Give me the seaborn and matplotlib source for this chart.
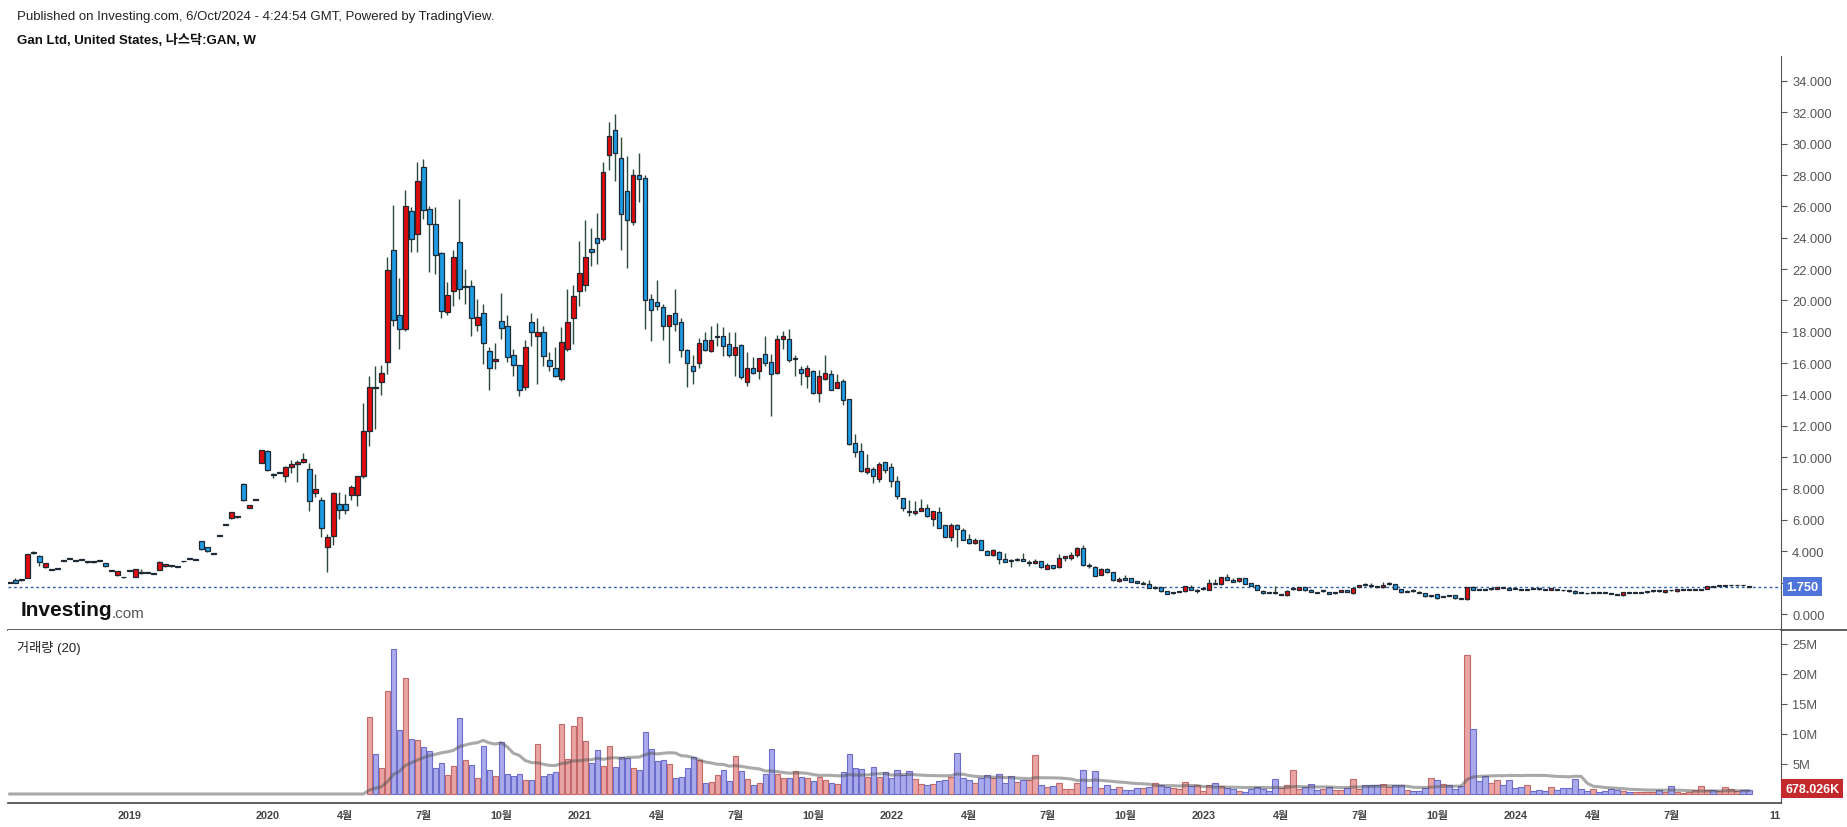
import matplotlib
matplotlib.use("Agg")
import numpy as np
import pandas as pd
import matplotlib.pyplot as plt
import seaborn as sns

# Weekly OHLC for GAN, one entry per bar (bar index 0..290)
opens = [
    2.02, 2.20, 2.15, 2.30, 3.88, 3.70, 2.98, 2.85, 2.88, 3.40,
    3.53, 3.44, 3.50, 3.31, 3.31, 3.40, 3.23, 2.76, 2.47, 2.35,
    2.74, 2.38, 2.62, 2.64, 2.60, 2.83, 3.04, 3.07, 3.01, 3.35,
    3.54, 3.49, 4.63, 4.27, 3.84, 4.99, 5.69, 6.10, 6.18, 8.30,
    6.78, 7.30, 9.65, 10.40, 8.95, 9.01, 8.82, 9.40, 9.55, 9.70,
    9.25, 7.70, 7.27, 4.30, 4.99, 7.00, 7.00, 7.60, 7.60, 8.82,
    11.65, 14.50, 14.81, 16.05, 23.20, 19.07, 18.20, 25.70, 24.25, 28.50,
    25.80, 24.90, 23.00, 19.24, 20.60, 23.70, 20.85, 20.90, 18.45, 19.20,
    16.80, 16.15, 18.70, 18.40, 16.55, 15.90, 14.50, 18.60, 17.70, 18.00,
    16.20, 15.70, 14.97, 16.90, 18.90, 20.63, 21.00, 23.30, 23.97, 23.95,
    29.30, 30.90, 29.10, 27.00, 25.02, 28.00, 27.78, 20.10, 19.90, 19.60,
    18.35, 19.20, 18.60, 16.87, 15.80, 16.00, 17.50, 16.76, 17.65, 17.70,
    17.20, 16.50, 17.15, 14.80, 15.70, 15.50, 16.60, 16.10, 15.40, 17.57,
    17.57, 16.25, 15.60, 15.20, 15.50, 14.07, 15.00, 15.30, 14.44, 14.85,
    13.69, 10.88, 10.37, 9.08, 9.25, 8.61, 9.67, 9.35, 8.46, 7.37,
    6.58, 6.46, 6.60, 6.74, 6.08, 6.49, 5.65, 4.93, 5.65, 5.35,
    4.77, 4.50, 4.70, 4.00, 3.74, 3.93, 3.50, 3.40, 3.45, 3.50,
    3.23, 3.25, 3.38, 2.90, 3.13, 2.98, 3.55, 3.60, 3.74, 4.19,
    3.04, 2.98, 2.47, 2.85, 2.66, 2.13, 2.27, 2.27, 2.10, 1.94,
    1.94, 1.66, 1.72, 1.45, 1.33, 1.41, 1.45, 1.72, 1.47, 1.57,
    1.55, 2.00, 1.89, 2.33, 2.20, 2.08, 2.27, 2.00, 1.85, 1.47,
    1.40, 1.35, 1.22, 1.20, 1.57, 1.55, 1.70, 1.50, 1.39, 1.45,
    1.38, 1.32, 1.40, 1.53, 1.32, 1.72, 1.93, 1.81, 1.73, 1.70,
    1.89, 1.89, 1.60, 1.43, 1.46, 1.43, 1.34, 1.13, 1.26, 1.11,
    1.18, 1.21, 0.97, 0.94, 1.72, 1.56, 1.54, 1.57, 1.60, 1.67,
    1.64, 1.61, 1.56, 1.54, 1.61, 1.59, 1.56, 1.55, 1.54, 1.52,
    1.46, 1.47, 1.35, 1.33, 1.35, 1.37, 1.35, 1.31, 1.24, 1.19,
    1.39, 1.35, 1.37, 1.39, 1.44, 1.46, 1.38, 1.52, 1.45, 1.54,
    1.54, 1.54, 1.54, 1.60, 1.75, 1.78, 1.80, 1.82, 1.82, 1.84,
    1.79,
]
highs = [
    2.05, 2.30, 2.25, 3.85, 4.00, 3.75, 3.25, 2.88, 2.94, 3.46,
    3.58, 3.46, 3.52, 3.33, 3.33, 3.45, 3.25, 2.78, 2.75, 2.37,
    2.78, 2.87, 2.87, 2.68, 2.62, 3.36, 3.19, 3.09, 3.03, 3.39,
    3.58, 3.51, 4.66, 4.30, 3.86, 5.03, 5.73, 6.50, 6.20, 8.33,
    6.95, 7.34, 10.48, 10.46, 8.97, 9.07, 9.42, 9.85, 9.85, 10.30,
    9.60, 8.95, 7.45, 5.10, 7.75, 7.76, 7.66, 8.20, 8.82, 13.45,
    15.16, 15.80, 15.87, 22.80, 26.10, 21.40, 27.04, 25.94, 28.80, 29.00,
    26.00, 25.94, 23.10, 21.15, 23.20, 26.50, 22.00, 21.30, 20.10, 19.80,
    17.00, 17.30, 20.50, 19.10, 16.90, 15.90, 17.50, 19.20, 18.90, 18.40,
    16.70, 17.00, 18.30, 20.70, 21.00, 23.80, 25.10, 24.60, 25.60, 28.85,
    31.40, 31.90, 30.40, 29.20, 28.40, 29.40, 28.00, 20.40, 21.28, 19.77,
    19.07, 20.70, 18.90, 16.90, 16.50, 17.60, 18.00, 18.38, 18.53, 18.30,
    17.97, 17.97, 17.20, 16.70, 16.40, 16.30, 17.70, 16.60, 17.80, 18.05,
    18.20, 16.50, 15.83, 15.85, 15.55, 15.55, 16.50, 15.55, 15.30, 15.00,
    13.70, 11.50, 10.90, 10.20, 9.35, 9.72, 9.72, 9.60, 8.80, 7.37,
    7.30, 7.20, 7.35, 7.00, 6.60, 6.83, 5.65, 5.78, 5.72, 5.46,
    5.13, 4.87, 4.74, 4.10, 4.14, 4.00, 3.87, 3.53, 3.57, 3.87,
    3.47, 3.51, 3.40, 3.23, 3.15, 3.83, 3.72, 3.97, 4.27, 4.40,
    3.23, 3.04, 2.91, 2.91, 2.70, 2.34, 2.46, 2.27, 2.10, 2.08,
    2.15, 1.77, 1.72, 1.47, 1.40, 1.47, 1.80, 1.85, 1.57, 1.70,
    2.25, 2.25, 2.36, 2.55, 2.27, 2.30, 2.28, 2.00, 1.87, 1.50,
    1.42, 1.77, 1.30, 1.55, 1.66, 1.72, 1.72, 1.60, 1.43, 1.50,
    1.40, 1.38, 1.53, 1.55, 1.66, 1.87, 1.96, 1.98, 1.74, 2.06,
    2.02, 1.90, 1.60, 1.50, 1.60, 1.45, 1.36, 1.23, 1.28, 1.17,
    1.20, 1.23, 0.98, 1.72, 1.77, 1.60, 1.56, 1.62, 1.74, 1.69,
    1.66, 1.63, 1.58, 1.58, 1.63, 1.61, 1.58, 1.66, 1.56, 1.54,
    1.48, 1.50, 1.37, 1.35, 1.39, 1.39, 1.37, 1.33, 1.26, 1.42,
    1.41, 1.39, 1.41, 1.43, 1.48, 1.48, 1.53, 1.54, 1.62, 1.58,
    1.58, 1.58, 1.58, 1.79, 1.77, 1.82, 1.84, 1.86, 1.86, 1.86,
    1.81,
]
lows = [
    1.95, 1.98, 2.10, 2.28, 3.85, 3.06, 2.95, 2.80, 2.86, 3.38,
    3.51, 3.38, 3.45, 3.27, 3.27, 3.38, 3.02, 2.72, 2.45, 2.31,
    2.72, 2.36, 2.55, 2.62, 2.56, 2.81, 3.02, 3.03, 2.97, 3.33,
    3.52, 3.45, 4.10, 3.98, 3.80, 4.97, 5.67, 6.08, 6.14, 7.22,
    6.76, 7.28, 9.63, 9.14, 8.70, 8.99, 8.40, 9.00, 8.40, 9.60,
    6.60, 7.45, 4.90, 2.66, 4.40, 6.06, 6.35, 7.24, 6.87, 8.65,
    10.70, 11.80, 13.96, 15.30, 18.40, 16.90, 18.05, 23.10, 23.10, 25.20,
    21.80, 21.70, 18.90, 19.07, 19.67, 20.10, 19.80, 17.75, 18.05, 15.94,
    14.30, 15.60, 17.55, 16.10, 15.20, 13.90, 14.30, 17.10, 14.65, 15.80,
    15.50, 15.10, 14.85, 16.80, 17.20, 19.67, 20.63, 22.20, 22.30, 23.76,
    28.30, 27.60, 23.20, 22.10, 24.80, 26.30, 18.20, 17.40, 19.40, 17.46,
    16.00, 18.05, 16.40, 14.50, 14.70, 15.67, 16.80, 16.70, 17.10, 16.46,
    16.40, 15.20, 15.00, 14.53, 15.30, 14.99, 15.80, 12.60, 15.30, 16.90,
    16.10, 15.20, 14.60, 14.40, 14.05, 13.55, 14.90, 14.30, 14.40, 13.30,
    10.80, 10.00, 9.08, 8.93, 8.33, 8.40, 9.00, 8.10, 7.33, 6.55,
    6.23, 6.30, 6.55, 6.17, 5.60, 5.50, 4.93, 4.65, 4.27, 4.70,
    4.44, 4.44, 4.06, 3.74, 3.72, 3.17, 3.30, 3.02, 3.38, 3.36,
    3.08, 3.17, 2.96, 2.90, 2.90, 2.96, 3.38, 3.47, 3.61, 3.08,
    2.96, 2.40, 2.47, 2.62, 2.13, 2.06, 2.15, 2.02, 1.96, 1.90,
    1.64, 1.60, 1.42, 1.25, 1.30, 1.38, 1.43, 1.51, 1.32, 1.55,
    1.50, 1.90, 1.85, 2.18, 2.04, 2.06, 1.92, 1.78, 1.50, 1.30,
    1.32, 1.30, 1.20, 1.18, 1.53, 1.53, 1.48, 1.40, 1.36, 1.40,
    1.25, 1.30, 1.38, 1.38, 1.28, 1.70, 1.80, 1.77, 1.69, 1.68,
    1.87, 1.58, 1.36, 1.41, 1.42, 1.32, 1.11, 1.11, 0.98, 1.09,
    1.15, 0.98, 0.93, 0.92, 1.53, 1.50, 1.50, 1.55, 1.58, 1.63,
    1.53, 1.58, 1.53, 1.52, 1.58, 1.56, 1.53, 1.53, 1.51, 1.49,
    1.43, 1.28, 1.32, 1.30, 1.33, 1.34, 1.32, 1.28, 1.21, 1.17,
    1.36, 1.33, 1.35, 1.37, 1.42, 1.43, 1.36, 1.49, 1.43, 1.52,
    1.52, 1.52, 1.52, 1.58, 1.72, 1.76, 1.78, 1.80, 1.80, 1.81,
    1.74,
]
closes = [
    1.98, 2.00, 2.20, 3.83, 3.95, 3.30, 3.23, 2.82, 2.92, 3.44,
    3.57, 3.40, 3.47, 3.29, 3.29, 3.43, 3.04, 2.74, 2.73, 2.33,
    2.76, 2.85, 2.60, 2.66, 2.58, 3.34, 3.17, 3.05, 2.99, 3.37,
    3.56, 3.47, 4.12, 4.00, 3.82, 5.01, 5.71, 6.48, 6.16, 7.25,
    6.93, 7.32, 10.46, 9.16, 8.88, 9.05, 9.40, 9.57, 9.70, 9.90,
    7.23, 7.95, 5.46, 4.90, 7.72, 6.63, 6.63, 8.08, 8.82, 11.65,
    14.46, 14.40, 15.40, 21.94, 18.77, 18.20, 26.00, 23.90, 27.60, 25.77,
    24.90, 22.90, 19.35, 20.34, 22.74, 20.70, 20.95, 18.90, 18.96, 17.30,
    15.70, 16.25, 18.26, 16.40, 15.90, 14.30, 17.06, 17.96, 18.00, 16.47,
    15.84, 15.20, 17.35, 18.60, 20.30, 21.75, 22.80, 23.10, 23.64, 28.17,
    30.46, 29.40, 25.50, 25.10, 27.97, 27.76, 20.00, 19.40, 19.65, 18.40,
    19.05, 18.47, 16.85, 16.00, 15.50, 17.30, 16.87, 17.46, 17.70, 17.10,
    16.50, 17.06, 15.09, 15.70, 15.40, 16.30, 16.00, 15.30, 17.57, 17.70,
    16.17, 16.35, 15.35, 15.70, 14.07, 15.20, 15.40, 14.30, 14.80, 13.63,
    10.84, 10.31, 9.14, 9.29, 8.78, 9.55, 9.20, 8.50, 7.54, 6.75,
    6.52, 6.60, 6.76, 6.23, 6.60, 5.50, 4.93, 5.65, 5.40, 4.70,
    4.50, 4.70, 4.06, 3.74, 4.06, 3.50, 3.30, 3.36, 3.50, 3.36,
    3.27, 3.38, 3.00, 3.10, 2.91, 3.55, 3.70, 3.76, 4.20, 3.10,
    3.08, 2.44, 2.85, 2.66, 2.15, 2.23, 2.17, 2.02, 1.96, 1.98,
    1.64, 1.70, 1.49, 1.27, 1.38, 1.43, 1.77, 1.51, 1.50, 1.60,
    1.96, 1.93, 2.33, 2.20, 2.06, 2.27, 1.93, 1.80, 1.50, 1.32,
    1.34, 1.33, 1.24, 1.49, 1.64, 1.70, 1.50, 1.43, 1.37, 1.48,
    1.26, 1.35, 1.51, 1.40, 1.64, 1.85, 1.83, 1.79, 1.71, 1.87,
    2.00, 1.60, 1.38, 1.46, 1.44, 1.34, 1.13, 1.21, 1.00, 1.14,
    1.16, 1.00, 0.95, 1.70, 1.55, 1.54, 1.52, 1.60, 1.72, 1.65,
    1.55, 1.59, 1.54, 1.56, 1.59, 1.57, 1.54, 1.64, 1.52, 1.50,
    1.44, 1.32, 1.33, 1.31, 1.37, 1.35, 1.33, 1.29, 1.22, 1.40,
    1.37, 1.37, 1.39, 1.41, 1.46, 1.44, 1.51, 1.50, 1.60, 1.56,
    1.56, 1.56, 1.56, 1.77, 1.73, 1.80, 1.82, 1.84, 1.84, 1.82,
    1.75,
]

# weekly volume in millions, starting at the Nasdaq listing (bar 60); nothing before
vol_start = 60
volumes = [
    12.8, 6.6, 4.3, 17.1, 24.1, 10.6, 19.4, 9.1, 9.0, 7.8,
    7.1, 4.3, 5.1, 3.2, 4.7, 12.6, 5.6, 4.9, 2.6, 8.0,
    4.0, 3.0, 8.6, 3.3, 3.0, 3.3, 2.3, 2.4, 8.3, 3.0,
    3.3, 3.6, 11.6, 5.8, 11.4, 12.9, 8.8, 5.1, 7.3, 4.67,
    7.94, 4.5, 6.11, 5.94, 4.28, 3.94, 10.28, 7.44, 5.44, 5.61,
    4.94, 2.61, 2.78, 4.28, 6.11, 5.61, 1.78, 1.94, 3.11, 3.94,
    2.11, 6.28, 3.78, 2.44, 1.44, 1.78, 3.28, 7.44, 3.28, 2.61,
    2.61, 3.78, 2.78, 2.61, 2.11, 2.78, 2.28, 1.78, 1.61, 3.61,
    6.61, 4.28, 4.11, 2.78, 4.44, 2.78, 3.61, 2.61, 3.94, 3.11,
    3.78, 2.44, 1.61, 1.44, 1.61, 2.11, 2.28, 2.78, 6.78, 2.61,
    2.28, 1.78, 2.61, 3.11, 2.61, 3.28, 1.78, 2.94, 1.94, 2.28,
    2.28, 6.44, 1.44, 1.11, 1.28, 1.78, 0.78, 0.78, 1.78, 3.94,
    1.11, 3.78, 0.94, 1.44, 0.78, 1.11, 0.61, 0.61, 0.94, 0.94,
    1.11, 1.78, 1.44, 1.11, 0.94, 0.78, 1.94, 1.28, 1.44, 0.44,
    1.44, 1.78, 1.28, 0.94, 0.78, 0.44, 0.28, 0.78, 1.11, 0.78,
    0.44, 2.44, 0.94, 1.44, 3.94, 0.78, 1.11, 1.61, 0.61, 0.78,
    1.11, 0.61, 0.61, 0.94, 2.44, 0.78, 1.44, 1.44, 1.44, 1.61,
    1.11, 1.44, 1.44, 0.61, 0.44, 0.44, 0.94, 2.61, 2.28, 1.61,
    1.44, 0.78, 1.28, 23.17, 10.78, 2.11, 2.94, 1.78, 2.28, 1.44,
    2.28, 0.94, 1.11, 1.44, 0.44, 0.61, 0.44, 1.11, 0.61, 0.94,
    0.94, 2.44, 0.78, 0.44, 0.78, 0.28, 0.44, 0.78, 0.61, 0.44,
    0.28, 0.28, 0.28, 0.28, 0.28, 0.61, 0.28, 1.28, 0.28, 0.20,
    0.28, 0.61, 1.28, 0.61, 0.61, 0.44, 1.11, 0.78, 0.44, 0.61,
    0.678,
]

tick_pos = [20, 43, 56, 69, 82, 95, 108, 121, 134, 147, 160, 173, 186,
            199, 212, 225, 238, 251, 264, 277, 294.3]
tick_labels = ["2019", "2020", "4월", "7월", "10월", "2021", "4월", "7월", "10월",
               "2022", "4월", "7월", "10월", "2023", "4월", "7월", "10월",
               "2024", "4월", "7월", "11"]
price_ticks = list(range(0, 35, 2))
vol_ticks = [5, 10, 15, 20, 25]
last_price = 1.750
last_volume_label = "678.026K"

sns.set_style("white")
plt.rcParams["font.family"] = ["Liberation Sans", "Noto Sans CJK KR"]

df = pd.DataFrame({"open": opens, "high": highs, "low": lows, "close": closes})
df["bar"] = np.arange(len(df))
df["volume"] = 0.0
df.loc[vol_start:, "volume"] = volumes
df["up"] = df["close"] >= df["open"]
df["vol_ma"] = df["volume"].rolling(20, min_periods=1).mean()

W, H = 1847, 828
fig = plt.figure(figsize=(W / 100, H / 100), dpi=100)
left, right = 8, 1781
ax = fig.add_axes([left / W, 1 - 631 / H, (right - left) / W, (631 - 57) / H])
axv = fig.add_axes([left / W, 1 - 804 / H, (right - left) / W, (804 - 631) / H], sharex=ax)

red, blue = "#e20a0a", "#1e9ce4"
outline = "#1d2a36"
wick = "#2c4a3c"

# candles
body_col = np.where(df["up"], red, blue)
ax.vlines(df["bar"], df["low"], df["high"], color=wick, lw=1.0, zorder=2)
body_low = df[["open", "close"]].min(axis=1)
body_h = (df["close"] - df["open"]).abs().clip(lower=0.06)
ax.bar(df["bar"], body_h, bottom=body_low, width=0.74, color=body_col,
       edgecolor=outline, linewidth=0.9, zorder=3)

ax.axhline(last_price, color="#2d5fa8", lw=1.0, ls=(0, (2, 2)), zorder=1)

ax.set_xlim(-0.22, 295.3)
ax.set_ylim(-1.02, 35.59)
ax.set_yticks(price_ticks)
# the 2.000 label is hidden behind the last-price box in the original
ax.set_yticklabels(["" if t == 2 else f"{t:.3f}" for t in price_ticks])
ax.yaxis.tick_right()
ax.tick_params(axis="y", length=4, width=0.8, color="#555555", pad=4,
               labelsize=9.3, labelcolor="#555555", right=True)
ax.tick_params(axis="x", length=0, labelbottom=False)
for s in ["top", "left"]:
    ax.spines[s].set_visible(False)
ax.spines["right"].set_color("#555555")
ax.spines["bottom"].set_color("#444444")
ax.spines["bottom"].set_linewidth(1.2)

ax.annotate(f"{last_price:.3f}", xy=(1.0, last_price), xycoords=("axes fraction", "data"),
            xytext=(4, 0), textcoords="offset points", va="center", ha="left",
            fontsize=9.3, fontweight="bold", color="white",
            bbox=dict(boxstyle="square,pad=0.25", fc="#4f74da", ec="none"))

# Investing.com logo text
ax.text(0.007, 0.035, "Investing", transform=ax.transAxes, fontsize=15,
        fontweight="bold", color="#111111", va="center", ha="left")
ax.text(0.0585, 0.030, ".com", transform=ax.transAxes, fontsize=11,
        color="#555555", va="center", ha="left")

# volume
vdf = df[df["bar"] >= vol_start]
up_v = vdf[vdf["up"]]
dn_v = vdf[~vdf["up"]]
axv.bar(up_v["bar"], up_v["volume"], width=0.92, color="#eaa4a4",
        edgecolor="#c46a6a", linewidth=0.8, zorder=2)
axv.bar(dn_v["bar"], dn_v["volume"], width=0.92, color="#a9a9ec",
        edgecolor="#6d6dcc", linewidth=0.8, zorder=2)
sns.lineplot(data=df, x="bar", y="vol_ma", ax=axv, color="#555555",
             alpha=0.5, lw=2.2, zorder=3)

axv.set_ylim(-1.5, 27.33)
axv.set_yticks(vol_ticks)
axv.set_yticklabels([f"{t}M" for t in vol_ticks])
axv.yaxis.tick_right()
axv.tick_params(axis="y", length=4, width=0.8, color="#555555", pad=4,
                labelsize=9.3, labelcolor="#555555", right=True)
axv.set_xticks(tick_pos)
axv.set_xticklabels(tick_labels)
axv.tick_params(axis="x", length=0, pad=5, labelsize=7.8, labelcolor="#444444")
for lab in axv.get_xticklabels():
    lab.set_fontweight("bold")
axv.set_xlabel("")
axv.set_ylabel("")
ax.set_xlabel("")
for s in ["top", "left"]:
    axv.spines[s].set_visible(False)
axv.spines["right"].set_color("#555555")
axv.spines["bottom"].set_color("#444444")
axv.spines["bottom"].set_linewidth(1.2)

axv.text(0.005, 0.9, "거래량 (20)", transform=axv.transAxes, fontsize=9.5,
         color="#222222", va="center", ha="left")

axv.annotate(last_volume_label, xy=(1.0, vdf["volume"].iloc[-1]),
             xycoords=("axes fraction", "data"), xytext=(3, 1), textcoords="offset points",
             va="center", ha="left", fontsize=9, fontweight="bold", color="white",
             bbox=dict(boxstyle="square,pad=0.3", fc="#c3282c", ec="none"))

# separator line reaching the right edge
fig.add_artist(plt.Line2D([right / W, 1.0], [1 - 631 / H, 1 - 631 / H],
                          color="#444444", lw=1.2))

fig.text(17 / W, 1 - 17 / H, "Published on Investing.com, 6/Oct/2024 - 4:24:54 GMT, Powered by TradingView.",
         fontsize=9.5, color="#222222", va="center", ha="left")
fig.text(17 / W, 1 - 40 / H, "Gan Ltd, United States, 나스닥:GAN, W",
         fontsize=9.5, fontweight="bold", color="#111111", va="center", ha="left")

fig.savefig("out.png", dpi=100, facecolor="white")
